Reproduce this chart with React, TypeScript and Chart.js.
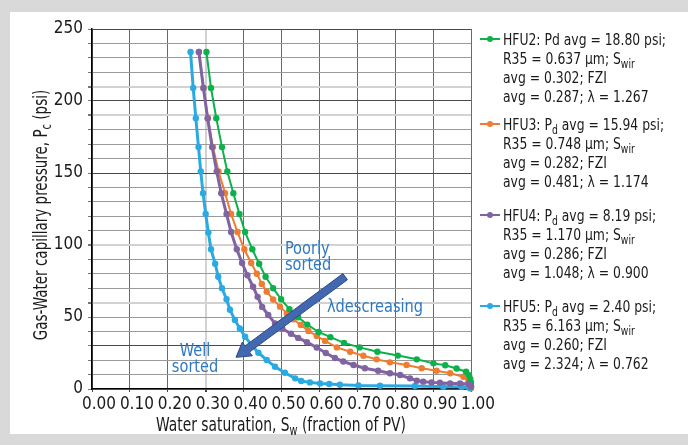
import React, { useEffect, useRef } from 'react';
import { Chart, registerables } from 'chart.js';

Chart.register(...registerables);

const FONT = "'Liberation Sans Narrow','DejaVu Sans Condensed',Roboto,sans-serif";

// ---- data (water saturation fraction, capillary pressure psi) ----
const SERIES_LABELS = ['HFU2', 'HFU3', 'HFU4', 'HFU5'];
const SERIES_COLORS = ['#0db14b', '#ee7d31', '#8064a2', '#2aaae2'];

const HFU2_SW = [0.302, 0.314, 0.328, 0.343, 0.357, 0.373, 0.389, 0.404, 0.423, 0.441, 0.458, 0.478, 0.499, 0.521, 0.544, 0.568, 0.598, 0.629, 0.665, 0.706, 0.753, 0.807, 0.857, 0.901, 0.932, 0.962, 0.987, 0.995, 0.998, 1.0, 1.0];
const HFU2_PC = [234, 209, 188, 168, 151, 136, 121.5, 109, 97, 87, 78, 70, 62.3, 55.5, 49.8, 44.7, 39.6, 36, 32, 28.9, 25.9, 23.2, 20.6, 17.8, 16.5, 14.2, 12, 9.5, 7, 4.5, 2];

const HFU3_SW = [0.282, 0.294, 0.306, 0.319, 0.334, 0.351, 0.367, 0.384, 0.402, 0.420, 0.435, 0.448, 0.461, 0.478, 0.496, 0.514, 0.531, 0.551, 0.571, 0.593, 0.615, 0.646, 0.681, 0.716, 0.751, 0.786, 0.830, 0.870, 0.909, 0.945, 0.980, 0.993, 0.998, 1.0, 1.0];
const HFU3_PC = [234, 209, 188, 168, 151, 136, 121.5, 109, 97, 87.5, 80, 73, 67.6, 62.2, 57.2, 52.5, 48.4, 44.4, 40.3, 36.8, 33.4, 28.9, 25.9, 23.1, 20.6, 18.5, 16.7, 14.4, 12.7, 10.9, 8.5, 6.2, 4, 2, 0.5];

const HFU4_SW = [0.282, 0.294, 0.305, 0.317, 0.329, 0.341, 0.355, 0.367, 0.382, 0.396, 0.410, 0.425, 0.437, 0.449, 0.465, 0.483, 0.502, 0.525, 0.544, 0.567, 0.593, 0.617, 0.641, 0.663, 0.690, 0.720, 0.755, 0.786, 0.813, 0.839, 0.857, 0.874, 0.896, 0.918, 0.945, 0.971, 0.993, 1.0];
const HFU4_PC = [234, 209, 188, 168, 151, 136, 121.5, 109, 97, 87.5, 79, 71, 64, 57, 51.4, 45.6, 42, 38.4, 35.5, 32.5, 28.8, 25, 21.5, 19.1, 16.7, 14.4, 12.7, 10.9, 9.7, 7.4, 5.8, 5.1, 4.6, 4.4, 3.9, 3.9, 3.5, 1.5];

const HFU5_SW = [0.260, 0.267, 0.274, 0.281, 0.287, 0.293, 0.300, 0.307, 0.314, 0.325, 0.333, 0.343, 0.355, 0.364, 0.377, 0.390, 0.404, 0.421, 0.439, 0.461, 0.483, 0.509, 0.536, 0.552, 0.575, 0.602, 0.626, 0.654, 0.703, 0.760, 0.852, 0.927, 0.975, 0.997];
const HFU5_PC = [234, 209, 188, 168, 151, 136, 121.5, 108.6, 97, 87, 78, 70, 62.3, 55, 48, 42, 36.3, 30.6, 25.2, 20.1, 15.5, 11.3, 7.4, 5.6, 4.6, 3.9, 3.5, 3, 2.5, 2.3, 2.1, 1.6, 1.6, 0.5];

const LEGEND_LINES = [
  ['HFU2: Pd avg = 18.80 psi;', 'R35 = 0.637 μm; S_{wir}', 'avg = 0.302; FZI', 'avg = 0.287; λ = 1.267'],
  ['HFU3: P_{d} avg = 15.94 psi;', 'R35 = 0.748 μm; S_{wir}', 'avg = 0.282; FZI', 'avg = 0.481; λ = 1.174'],
  ['HFU4: P_{d} avg = 8.19 psi;', 'R35 = 1.170 μm; S_{wir}', 'avg = 0.286; FZI', 'avg = 1.048; λ = 0.900'],
  ['HFU5: P_{d} avg = 2.40 psi;', 'R35 = 6.163 μm; S_{wir}', 'avg = 0.260; FZI', 'avg = 2.324; λ = 0.762'],
];

const X_TITLE = 'Water saturation, S_{w} (fraction of PV)';
const Y_TITLE = 'Gas-Water capillary pressure, P_{c} (psi)';

// annotations in data units
const ARROW_FROM = { x: 0.668, y: 78 };
const ARROW_TO = { x: 0.380, y: 22 };
const NOTES = [
  { lines: ['Poorly', 'sorted'], x: 0.509, y: 94, align: 'left' },
  { lines: ['λdescreasing'], x: 0.62, y: 53.5, align: 'left' },
  { lines: ['Well', 'sorted'], x: 0.272, y: 23, align: 'center' },
];

const DARK_Y = [30, 150, 200, 250];
const LIGHT_Y = [60, 100, 190, 210];

function parseRich(text: string) {
  const segs: { t: string; sub: boolean }[] = [];
  const re = /_\{([^}]*)\}/g;
  let last = 0;
  let m;
  while ((m = re.exec(text))) {
    if (m.index > last) segs.push({ t: text.slice(last, m.index), sub: false });
    segs.push({ t: m[1], sub: true });
    last = m.index + m[0].length;
  }
  if (last < text.length) segs.push({ t: text.slice(last), sub: false });
  return segs;
}

function drawRich(ctx: CanvasRenderingContext2D, text: string, x: number, y: number, size: number, align: string, sx: number) {
  const segs = parseRich(text);
  const subSize = Math.round(size * 0.72);
  let total = 0;
  for (const s of segs) {
    ctx.font = `${s.sub ? subSize : size}px ${FONT}`;
    total += ctx.measureText(s.t).width;
  }
  ctx.save();
  ctx.translate(x, y);
  ctx.scale(sx, 1);
  let cx = align === 'center' ? -total / 2 : 0;
  ctx.textAlign = 'left';
  for (const s of segs) {
    ctx.font = `${s.sub ? subSize : size}px ${FONT}`;
    ctx.fillText(s.t, cx, s.sub ? size * 0.22 : 0);
    cx += ctx.measureText(s.t).width;
  }
  ctx.restore();
}

const decorPlugin = {
  id: 'decor',
  afterDatasetsDraw(chart: any) {
    const ctx = chart.ctx as CanvasRenderingContext2D;
    const xs = chart.scales.x;
    const ys = chart.scales.y;
    // arrow
    const x0 = xs.getPixelForValue(ARROW_FROM.x);
    const y0 = ys.getPixelForValue(ARROW_FROM.y);
    const x1 = xs.getPixelForValue(ARROW_TO.x);
    const y1 = ys.getPixelForValue(ARROW_TO.y);
    const dx = x1 - x0, dy = y1 - y0;
    const len = Math.hypot(dx, dy);
    const ux = dx / len, uy = dy / len;
    const nx = -uy, ny = ux;
    const sw = 3.8, hw = 8.5, hl = 14;
    const bx = x1 - ux * hl, by = y1 - uy * hl;
    ctx.save();
    ctx.beginPath();
    ctx.moveTo(x0 + nx * sw, y0 + ny * sw);
    ctx.lineTo(bx + nx * sw, by + ny * sw);
    ctx.lineTo(bx + nx * hw, by + ny * hw);
    ctx.lineTo(x1, y1);
    ctx.lineTo(bx - nx * hw, by - ny * hw);
    ctx.lineTo(bx - nx * sw, by - ny * sw);
    ctx.lineTo(x0 - nx * sw, y0 - ny * sw);
    ctx.closePath();
    ctx.fillStyle = '#4468b0';
    ctx.fill();
    ctx.strokeStyle = '#2c4a86';
    ctx.lineWidth = 1;
    ctx.stroke();
    // notes
    ctx.fillStyle = '#2f79c2';
    ctx.textBaseline = 'alphabetic';
    for (const n of NOTES) {
      const px = xs.getPixelForValue(n.x);
      const py = ys.getPixelForValue(n.y);
      n.lines.forEach((l, i) => drawRich(ctx, l, px, py + i * 16, 18, n.align, 0.9));
    }
    ctx.restore();
  },
  afterDraw(chart: any) {
    const ctx = chart.ctx as CanvasRenderingContext2D;
    ctx.save();
    ctx.fillStyle = '#1a1a1a';
    ctx.textBaseline = 'alphabetic';
    // x title
    drawRich(ctx, X_TITLE, 281, 431, 20, 'center', 0.77);
    // y title
    ctx.save();
    ctx.translate(47, 215);
    ctx.rotate(-Math.PI / 2);
    drawRich(ctx, Y_TITLE, 0, 0, 19, 'center', 0.79);
    ctx.restore();
    // legend
    const starts = [39, 124, 215, 306];
    const lx = 480;
    LEGEND_LINES.forEach((lines, i) => {
      const y = starts[i];
      ctx.strokeStyle = SERIES_COLORS[i];
      ctx.lineWidth = 2;
      ctx.beginPath();
      ctx.moveTo(lx, y);
      ctx.lineTo(lx + 20, y);
      ctx.stroke();
      ctx.fillStyle = SERIES_COLORS[i];
      ctx.beginPath();
      ctx.arc(lx + 10, y, 3, 0, Math.PI * 2);
      ctx.fill();
      ctx.fillStyle = '#1a1a1a';
      lines.forEach((l, j) => drawRich(ctx, l, lx + 23, y + 6 + j * 19, 16, 'left', 0.86));
    });
    ctx.restore();
  },
};

function mk(sw: number[], pc: number[]) {
  return sw.map((x, i) => ({ x, y: pc[i] }));
}

export default function App() {
  const ref = useRef<HTMLCanvasElement>(null);
  useEffect(() => {
    document.body.style.margin = '0';
    const series = [mk(HFU2_SW, HFU2_PC), mk(HFU3_SW, HFU3_PC), mk(HFU4_SW, HFU4_PC), mk(HFU5_SW, HFU5_PC)];
    const orders = [2, 3, 0, 1];
    const widths = [2, 2, 3, 3];
    const chart = new Chart(ref.current!, {
      type: 'line',
      data: {
        datasets: series.map((d, i) => ({
          label: SERIES_LABELS[i],
          data: d,
          borderColor: SERIES_COLORS[i],
          backgroundColor: SERIES_COLORS[i],
          pointBackgroundColor: SERIES_COLORS[i],
          pointBorderWidth: 0,
          pointRadius: 3.2,
          borderWidth: widths[i],
          tension: 0,
          fill: false,
          clip: 6,
          order: orders[i],
        })),
      },
      options: {
        animation: false,
        responsive: false,
        devicePixelRatio: 1,
        layout: { padding: { left: 0, top: 29, right: 217, bottom: 0 } },
        plugins: { legend: { display: false }, tooltip: { enabled: false } },
        scales: {
          x: {
            type: 'linear',
            min: 0,
            max: 1,
            afterFit: (s: any) => { s.height = 56; },
            border: { color: '#000', width: 1.5 },
            grid: {
              color: (c: any) => (Math.abs(c.tick.value - 0.3) < 1e-6 ? '#d2d2d2' : '#6a6a6a'),
              lineWidth: (c: any) => (Math.abs(c.tick.value - 0.3) < 1e-6 ? 2 : 1),
              tickLength: 3,
              tickColor: '#444',
            },
            ticks: {
              stepSize: 0.1,
              autoSkip: false,
              maxRotation: 0,
              labelOffset: 7,
              padding: 2,
              color: '#1a1a1a',
              font: { family: FONT, size: 17 },
              callback: (v: any) => Number(v).toFixed(2),
            },
          },
          y: {
            type: 'linear',
            min: 0,
            max: 250,
            afterFit: (s: any) => { s.width = 92; },
            border: { color: '#000', width: 1.5 },
            grid: {
              color: (c: any) => {
                const v = Math.round(c.tick.value);
                if (DARK_Y.includes(v)) return '#4a4a4a';
                if (LIGHT_Y.includes(v)) return '#d2d2d2';
                return '#9a9a9a';
              },
              lineWidth: (c: any) => (LIGHT_Y.includes(Math.round(c.tick.value)) ? 2 : 1),
              tickLength: 4,
              tickColor: '#777',
            },
            ticks: {
              stepSize: 10,
              autoSkip: false,
              padding: 5,
              color: '#1a1a1a',
              font: { family: FONT, size: 17 },
              callback: (v: any) => (Math.round(v) % 50 === 0 ? String(Math.round(v)) : ''),
            },
          },
        },
      },
      plugins: [decorPlugin],
    } as any);
    return () => chart.destroy();
  }, []);

  return (
    <div style={{ position: 'relative', width: 688, height: 445, background: '#d9d9d9', overflow: 'hidden' }}>
      <div style={{ position: 'absolute', left: 10, top: 12, right: 0, bottom: 11, background: '#fff' }} />
      <canvas ref={ref} width={688} height={445} style={{ position: 'absolute', left: 0, top: 0, width: 688, height: 445 }} />
    </div>
  );
}
